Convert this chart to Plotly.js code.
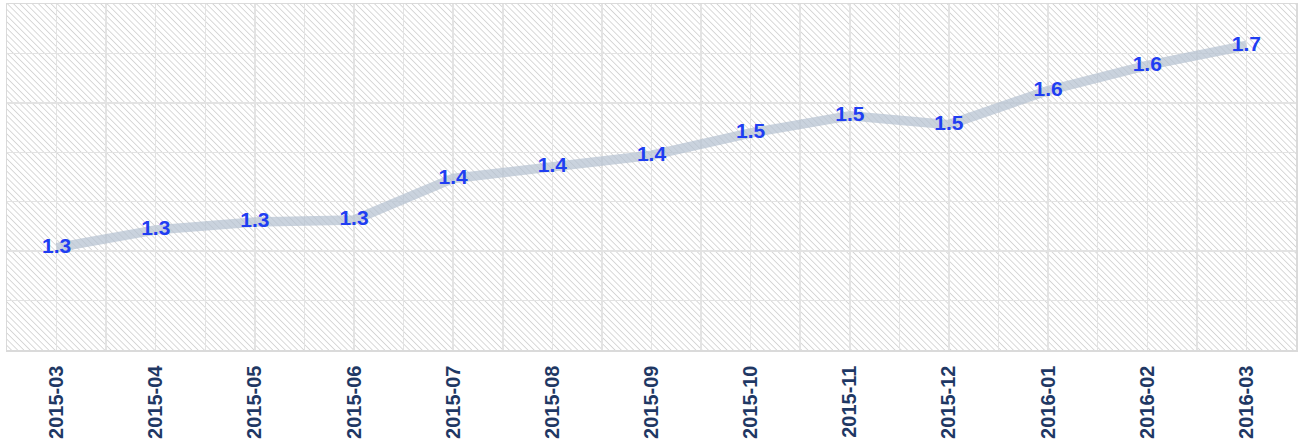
<!DOCTYPE html>
<html>
<head>
<meta charset="utf-8">
<script src="https://cdn.plot.ly/plotly-3.0.1.min.js"></script>
<style>
html,body{margin:0;padding:0;background:#fff;}
#chart{width:1299px;height:443px;}
</style>
</head>
<body>
<div id="chart"></div>
<script>
// Data
const months = ["2015-03","2015-04","2015-05","2015-06","2015-07","2015-08","2015-09","2015-10","2015-11","2015-12","2016-01","2016-02","2016-03"];
const values = [1.252, 1.288, 1.304, 1.308, 1.392, 1.416, 1.439, 1.484, 1.519, 1.501, 1.570, 1.621, 1.661];

const idx = months.map((m, i) => i);

const hatch = "data:image/svg+xml;utf8," + encodeURIComponent(
  "<svg xmlns='http://www.w3.org/2000/svg' width='1289' height='346'>" +
  "<defs><pattern id='p' width='4.4' height='4.4' patternUnits='userSpaceOnUse' patternTransform='rotate(-45)'>" +
  "<line x1='0' y1='0' x2='0' y2='4.4' stroke='#d0d0d0' stroke-width='1.6'/></pattern></defs>" +
  "<rect width='100%' height='100%' fill='#ffffff'/>" +
  "<rect width='100%' height='100%' fill='url(#p)'/></svg>"
);

const trace = {
  x: idx,
  y: values,
  type: 'scatter',
  mode: 'lines+text',
  line: {color: 'rgba(180,192,208,0.7)', width: 9.5},
  texttemplate: '%{y:.1f}',
  textposition: 'middle center',
  textfont: {family: 'Arial, "Liberation Sans", sans-serif', size: 21, color: '#1f3ef2', weight: 'bold'},
  hoverinfo: 'skip',
  cliponaxis: false
};

const layout = {
  width: 1299,
  height: 443,
  margin: {l: 7, r: 3, t: 4, b: 93, pad: 0},
  paper_bgcolor: '#ffffff',
  plot_bgcolor: '#ffffff',
  showlegend: false,
  images: [{
    source: hatch,
    xref: 'paper', yref: 'paper',
    x: 0, y: 1, sizex: 1, sizey: 1,
    xanchor: 'left', yanchor: 'top',
    sizing: 'stretch',
    layer: 'below'
  }],
  xaxis: {
    type: 'linear',
    range: [-0.5, 12.5],
    tickmode: 'array',
    tickvals: idx,
    ticktext: months,
    tickangle: -90,
    ticks: '',
    ticklabelstandoff: 6,
    tickfont: {family: 'Arial, "Liberation Sans", sans-serif', size: 20, color: '#1f3864', weight: 'bold'},
    showgrid: true,
    gridcolor: '#e3e3e3',
    gridwidth: 1.5,
    minor: {tickmode: 'linear', tick0: -0.5, dtick: 1, showgrid: true, gridcolor: '#e3e3e3', gridwidth: 1.5, ticks: ''},
    zeroline: false,
    showline: true,
    mirror: true,
    linecolor: '#dadada',
    linewidth: 1.5,
    fixedrange: true
  },
  yaxis: {
    range: [1.045, 1.745],
    tickmode: 'linear',
    tick0: 1.045,
    dtick: 0.1,
    showticklabels: false,
    ticks: '',
    showgrid: true,
    gridcolor: '#e3e3e3',
    gridwidth: 1.5,
    zeroline: false,
    showline: true,
    mirror: true,
    linecolor: '#dadada',
    linewidth: 1.5,
    fixedrange: true
  }
};

Plotly.newPlot('chart', [trace], layout, {displayModeBar: false, staticPlot: true});
</script>
</body>
</html>
